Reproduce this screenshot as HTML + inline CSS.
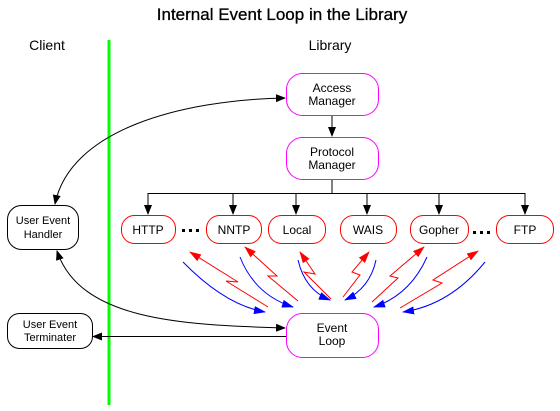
<!DOCTYPE html>
<html><head><style>
body{margin:0;background:#fff;}
svg{display:block;font-family:"Liberation Sans",sans-serif;}
</style></head><body>
<svg width="560" height="411" viewBox="0 0 560 411" xmlns="http://www.w3.org/2000/svg">
<defs>
<marker id="k" markerWidth="10" markerHeight="8" refX="9" refY="4" orient="auto-start-reverse" markerUnits="userSpaceOnUse"><path d="M0,0 L10,4 L0,8 z" fill="#000"/></marker>
<marker id="r" markerWidth="12" markerHeight="8" refX="11" refY="4" orient="auto" markerUnits="userSpaceOnUse"><path d="M0,0 L12,4 L0,8 z" fill="#f00"/></marker>
<marker id="b" markerWidth="12" markerHeight="8" refX="11" refY="4" orient="auto" markerUnits="userSpaceOnUse"><path d="M0,0 L12,4 L0,8 z" fill="#00f"/></marker>
</defs>
<text x="282" y="20" font-size="17" text-anchor="middle" stroke="#000" stroke-width="0.3">Internal Event Loop in the Library</text>
<text x="47" y="50" font-size="14" text-anchor="middle">Client</text>
<text x="330" y="50" font-size="14" text-anchor="middle">Library</text>
<line x1="109" y1="40" x2="109" y2="405" stroke="#0f0" stroke-width="3"/>

<g fill="#fff" stroke="#f0f">
<rect x="286.5" y="73.5" width="92" height="42" rx="16"/>
<rect x="286.5" y="137.5" width="92" height="42" rx="16"/>
<rect x="286.5" y="313.5" width="92" height="44" rx="16"/>
</g>
<g font-size="12" text-anchor="middle">
<text x="332" y="92">Access</text><text x="332" y="105">Manager</text>
<text x="332" y="156">Protocol</text><text x="332" y="169">Manager</text>
<text x="332" y="332">Event</text><text x="332" y="345">Loop</text>
</g>
<g fill="#fff" stroke="#000">
<rect x="7.5" y="205.5" width="71" height="44" rx="14"/>
<rect x="7.5" y="313.5" width="85" height="35" rx="12"/>
</g>
<g font-size="11" text-anchor="middle">
<text x="43" y="224">User Event</text><text x="43" y="238">Handler</text>
<text x="50" y="328">User Event</text><text x="50" y="341">Terminater</text>
</g>

<line x1="332" y1="116" x2="332" y2="136" stroke="#000" marker-end="url(#k)"/>
<g stroke="#000" fill="none">
<line x1="332" y1="180" x2="332" y2="193"/>
<line x1="148" y1="193.5" x2="525" y2="193.5"/>
<line x1="148" y1="193" x2="148" y2="214" marker-end="url(#k)"/>
<line x1="233" y1="193" x2="233" y2="214" marker-end="url(#k)"/>
<line x1="296" y1="193" x2="296" y2="214" marker-end="url(#k)"/>
<line x1="367" y1="193" x2="367" y2="214" marker-end="url(#k)"/>
<line x1="439" y1="193" x2="439" y2="214" marker-end="url(#k)"/>
<line x1="525" y1="193" x2="525" y2="214" marker-end="url(#k)"/>
</g>
<g fill="#fff" stroke="#f00">
<rect x="121.5" y="215.5" width="54" height="28" rx="13"/>
<rect x="206.5" y="215.5" width="55" height="28" rx="13"/>
<rect x="268.5" y="215.5" width="57" height="28" rx="13"/>
<rect x="340.5" y="215.5" width="56" height="28" rx="13"/>
<rect x="410.5" y="215.5" width="58" height="28" rx="13"/>
<rect x="496.5" y="215.5" width="57" height="28" rx="13"/>
</g>
<g font-size="12" text-anchor="middle">
<text x="148" y="234">HTTP</text><text x="234" y="234">NNTP</text><text x="297" y="234">Local</text>
<text x="368" y="234">WAIS</text><text x="439" y="234">Gopher</text><text x="525" y="234">FTP</text>
</g>
<g fill="#000"><rect x="182" y="229" width="3" height="3"/><rect x="189" y="229" width="3" height="3"/><rect x="196" y="229" width="3" height="3"/>
<rect x="473" y="231" width="3" height="3"/><rect x="480" y="231" width="3" height="3"/><rect x="487" y="231" width="3" height="3"/></g>

<g stroke="#f00" fill="none">
<polyline points="268,307 226,281 238,282 190,252" marker-end="url(#r)"/>
<polyline points="298,301 268,276 277,276 245,247" marker-end="url(#r)"/>
<polyline points="331,299 304,272 315,274 300,252" marker-end="url(#r)"/>
<polyline points="343,297 360,275 352,272 369,252" marker-end="url(#r)"/>
<polyline points="372,302 398,278 390,276 424,247" marker-end="url(#r)"/>
<polyline points="400,308 442,283 433,280 478,251" marker-end="url(#r)"/>
</g>
<g stroke="#00f" fill="none">
<path d="M183,262 Q225,305 265,312" marker-end="url(#b)"/>
<path d="M240,257 Q255,295 293,307" marker-end="url(#b)"/>
<path d="M298,260 Q305,290 330,300" marker-end="url(#b)"/>
<path d="M376,260 Q370,288 345,300" marker-end="url(#b)"/>
<path d="M427,257 Q410,295 374,307" marker-end="url(#b)"/>
<path d="M485,262 Q450,305 403,312" marker-end="url(#b)"/>
</g>

<g stroke="#000" fill="none">
<path d="M285,98 C180,100 70,130 55,204" marker-start="url(#k)" marker-end="url(#k)"/>
<path d="M285,328 C180,325 80,320 57,251" marker-start="url(#k)" marker-end="url(#k)"/>
<line x1="286" y1="336.5" x2="93" y2="336.5" marker-end="url(#k)"/>
</g>
</svg>
</body></html>
